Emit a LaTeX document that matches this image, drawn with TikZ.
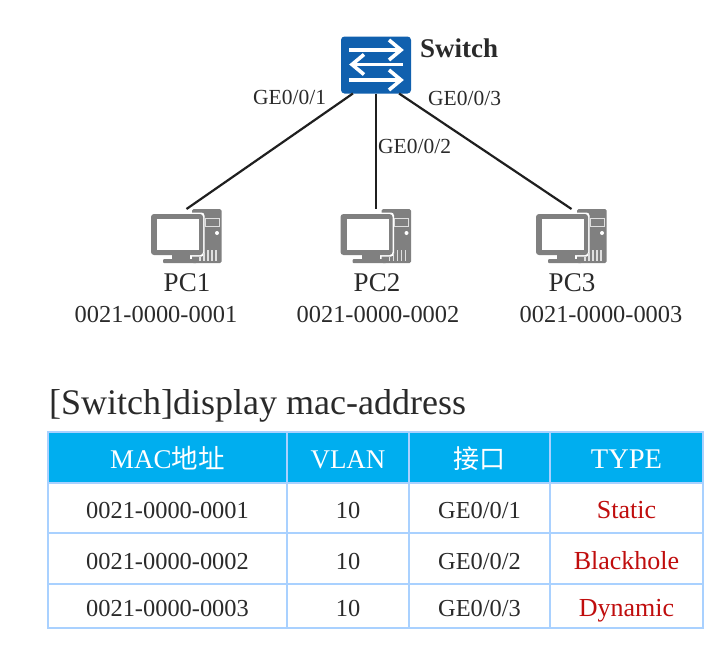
\documentclass[tikz,border=0pt]{standalone}
\usepackage{fontspec}
\setmainfont{Liberation Serif}
\newfontfamily\cjk{Noto Sans CJK SC}
\definecolor{swblue}{HTML}{1060AE}
\definecolor{pcgray}{HTML}{808080}
\definecolor{headblue}{HTML}{00AEEF}
\definecolor{gridblue}{HTML}{A9D1FF}
\definecolor{txt}{HTML}{2A2A2A}
\definecolor{redtxt}{HTML}{C00D0D}
\newcommand{\fs}[1]{\fontsize{#1}{#1}\selectfont}
\tikzset{
  link/.style={draw=black!88,line width=2.2pt},
  devbox/.style={inner sep=0pt,outer sep=0pt,minimum width=70pt},
  portlabel/.style={inner sep=0pt,anchor=base west,text=txt,font=\fs{21.5}},
  pcname/.style={inner sep=0pt,anchor=base,text=txt,font=\fs{27}},
  macname/.style={inner sep=0pt,anchor=base,text=txt,font=\fs{24.4}},
  cell/.style={draw=gridblue,line width=1.4pt,anchor=north west,inner sep=0pt,outer sep=0pt,
    text height=21pt,text depth=0pt,align=center},
  headcell/.style={cell,fill=headblue,text=white,font=\fs{27}},
  bodycell/.style={cell,fill=white,text=txt,font=\fs{24.4}},
  typecell/.style={cell,fill=white,text=redtxt,font=\fs{26}},
  wa/.style={minimum width=239pt},
  wb/.style={minimum width=122pt},
  wc/.style={minimum width=141pt},
  wd/.style={minimum width=153pt},
  arr/.style={draw=white,line width=3.6pt},
  pc/.pic={
    \fill[pcgray,rounded corners=1.5pt] (40,0) rectangle (69.5,54);
    \fill[white,rounded corners=3pt] (-2,3.5) rectangle (52.5,47.5);
    \fill[pcgray,rounded corners=3pt] (-1,5) rectangle (51,46);
    \fill[white] (5,10) rectangle (47,41);
    \fill[pcgray] (20,46) rectangle (38,50);
    \fill[pcgray,rounded corners=1pt] (11,50) rectangle (45,54);
    \draw[white!75!pcgray,line width=1pt] (53,9) rectangle (67,17);
    \fill[white] (65,24) circle (2);
    \foreach \vx/\vy in {48/48,52/44,56/41,60/41,64/41}{\draw[white!75!pcgray,line width=1.3pt] (\vx,\vy) -- (\vx,51.5);}
  }
}
\begin{document}
\begin{tikzpicture}[x=1pt,y=-1pt,line cap=butt]
\useasboundingbox (0,0) rectangle (718,646);
% switch
\node[devbox,minimum height=57pt,fill=swblue,rounded corners=3.5pt] (sw) at (376,65) {};
\draw[arr] (349,50) -- (401,50);
\draw[arr,line join=miter] (389,40) -- (401,50) -- (389,60);
\draw[arr] (403,64.5) -- (352,64.5);
\draw[arr] (364,54.5) -- (352,64.5) -- (364,74.5);
\draw[arr] (349,80) -- (401,80);
\draw[arr] (389,70) -- (401,80) -- (389,90);
\node[inner sep=0pt,anchor=base west,text=txt,font=\fs{27}\bfseries] (swname) at (420,57) {Switch};
% PCs
\node[devbox,minimum height=54pt] (pc1) at (186.5,236) {};
\node[devbox,minimum height=54pt] (pc2) at (376,236) {};
\node[devbox,minimum height=54pt] (pc3) at (571.5,236) {};
\pic at (152,209) {pc};
\pic at (341.5,209) {pc};
\pic at (537,209) {pc};
\draw[link] (sw.231) -- (pc1.north);
\draw[link] (sw.south) -- (pc2.north);
\draw[link] (sw.309) -- (pc3.north);
\node[portlabel] (p1) at (253,104) {GE0/0/1};
\node[portlabel] (p2) at (378,153) {GE0/0/2};
\node[portlabel] (p3) at (428,105) {GE0/0/3};
\node[pcname] (n1) at (187,291) {PC1};
\node[pcname] (n2) at (377,291) {PC2};
\node[pcname] (n3) at (572,291) {PC3};
\node[macname] (m1) at (156,322) {0021-0000-0001};
\node[macname] (m2) at (378,322) {0021-0000-0002};
\node[macname] (m3) at (601,322) {0021-0000-0003};
\node[inner sep=0pt,anchor=base west,text=txt,font=\fs{36}] (cmd) at (49,414) {[Switch]display mac-address};
% table
\node[headcell,wa,minimum height=51pt] (h1) at (48,432) {MAC{\cjk\fs{26.5}地址}};
\node[headcell,wb,minimum height=51pt] (h2) at (287,432) {VLAN};
\node[headcell,wc,minimum height=51pt] (h3) at (409,432) {{\cjk\fs{26}接口}};
\node[headcell,wd,minimum height=51pt,font=\fs{28.5}] (h4) at (550,432) {TYPE};
\node[bodycell,wa,minimum height=50pt] (a1) at (48,483) {0021-0000-0001};
\node[bodycell,wb,minimum height=50pt] (a2) at (287,483) {10};
\node[bodycell,wc,minimum height=50pt] (a3) at (409,483) {GE0/0/1};
\node[typecell,wd,minimum height=50pt] (a4) at (550,483) {Static};
\node[bodycell,wa,minimum height=51pt] (b1) at (48,533) {0021-0000-0002};
\node[bodycell,wb,minimum height=51pt] (b2) at (287,533) {10};
\node[bodycell,wc,minimum height=51pt] (b3) at (409,533) {GE0/0/2};
\node[typecell,wd,minimum height=51pt] (b4) at (550,533) {Blackhole};
\node[bodycell,wa,minimum height=44pt] (c1) at (48,584) {0021-0000-0003};
\node[bodycell,wb,minimum height=44pt] (c2) at (287,584) {10};
\node[bodycell,wc,minimum height=44pt] (c3) at (409,584) {GE0/0/3};
\node[typecell,wd,minimum height=44pt] (c4) at (550,584) {Dynamic};
\end{tikzpicture}
\end{document}
